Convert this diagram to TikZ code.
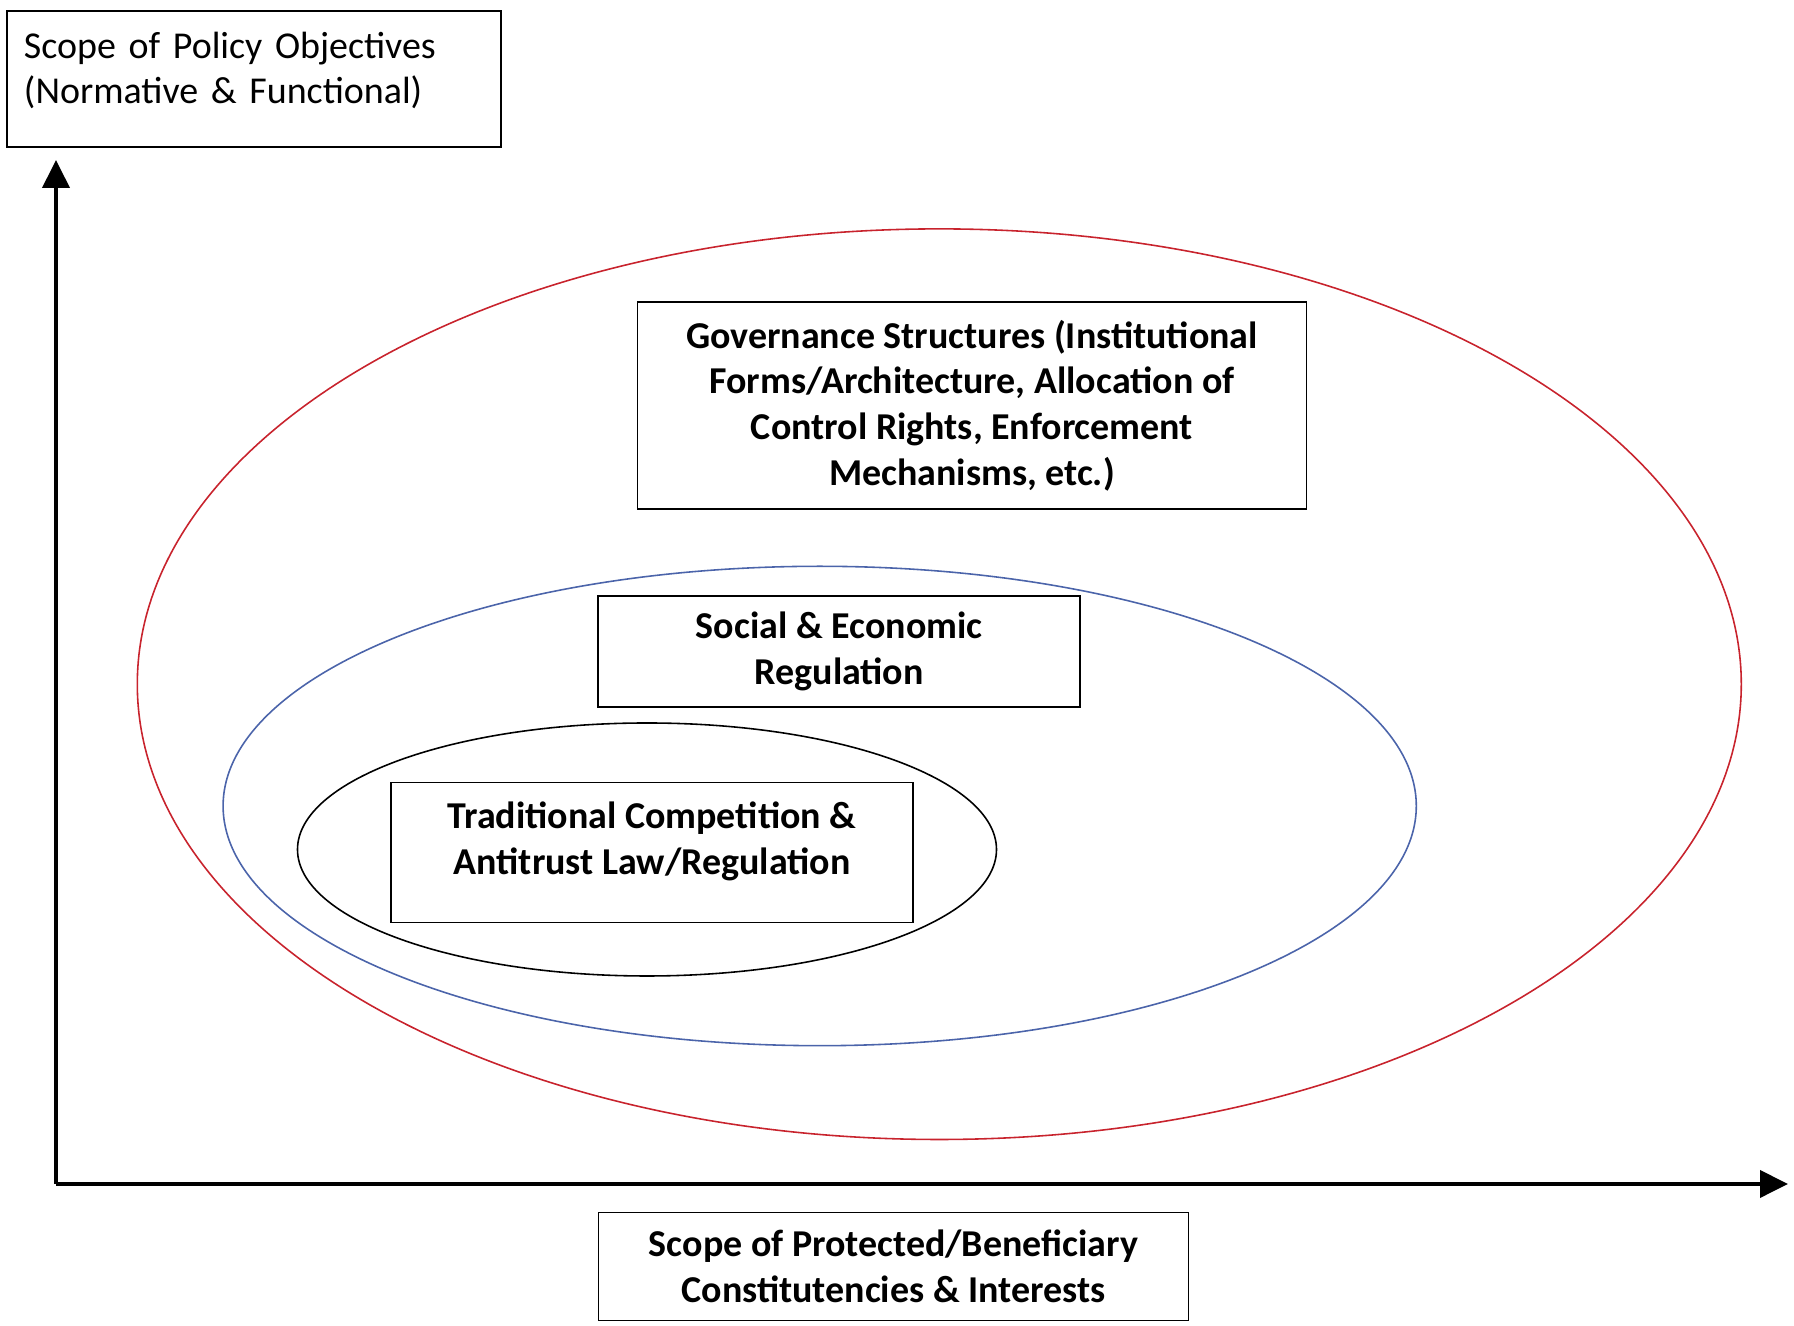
\documentclass[tikz,border=0pt]{standalone}
\usepackage{fontspec}
\setmainfont{Carlito}
\usetikzlibrary{arrows.meta}

\definecolor{outerred}{RGB}{200,35,45}
\definecolor{midblue}{RGB}{75,100,170}

\begin{document}
\begin{tikzpicture}[
    scale=1,
    box/.style={draw,line width=0.45pt,align=center,inner sep=0pt,
        font=\fontsize{10.8}{13}\selectfont\bfseries},
    axis/.style={line width=1.1pt,-{Triangle[length=0.28cm,width=0.27cm]}},
    ring/.style={line width=0.45pt}
]

\useasboundingbox (0,0) rectangle (17.94,-13.26);

\coordinate (O) at (0.56,-11.84);
\coordinate (ytip) at (0.56,-1.60);
\coordinate (xtip) at (17.88,-11.84);

\draw[axis] (O) -- (ytip);
\draw[axis] (O) -- (xtip);

\node[box,font=\fontsize{10.8}{13}\selectfont,align=left,
    minimum width=4.94cm,minimum height=1.36cm,text width=4.6cm,
    text depth=0.68cm] (ylab) at (2.54,-0.79)
    {Scope of Policy Objectives\\(Normative \& Functional)};

\node[box,minimum width=5.90cm,minimum height=1.08cm] (xlab) at (8.935,-12.666)
    {Scope of Protected/Beneficiary\\Constitutencies \& Interests};

% nested scopes
\draw[ring,outerred] (9.393,-6.842) ellipse (8.02cm and 4.553cm);
\draw[ring,midblue] (8.197,-8.06) ellipse (5.966cm and 2.397cm);
\draw[ring] (6.47,-8.495) ellipse (3.495cm and 1.265cm);

\node[box,minimum width=6.69cm,minimum height=2.07cm] (gov) at (9.72,-4.055)
    {Governance Structures (Institutional\\Forms/Architecture, Allocation of\\
     Control Rights, Enforcement\\Mechanisms, etc.)};

\node[box,minimum width=4.82cm,minimum height=1.11cm] (reg) at (8.392,-6.516)
    {Social \& Economic\\Regulation};

\node[box,minimum width=5.22cm,minimum height=1.40cm,text depth=0.28cm] (comp) at (6.52,-8.524)
    {Traditional Competition \&\\Antitrust Law/Regulation};

\end{tikzpicture}
\end{document}
